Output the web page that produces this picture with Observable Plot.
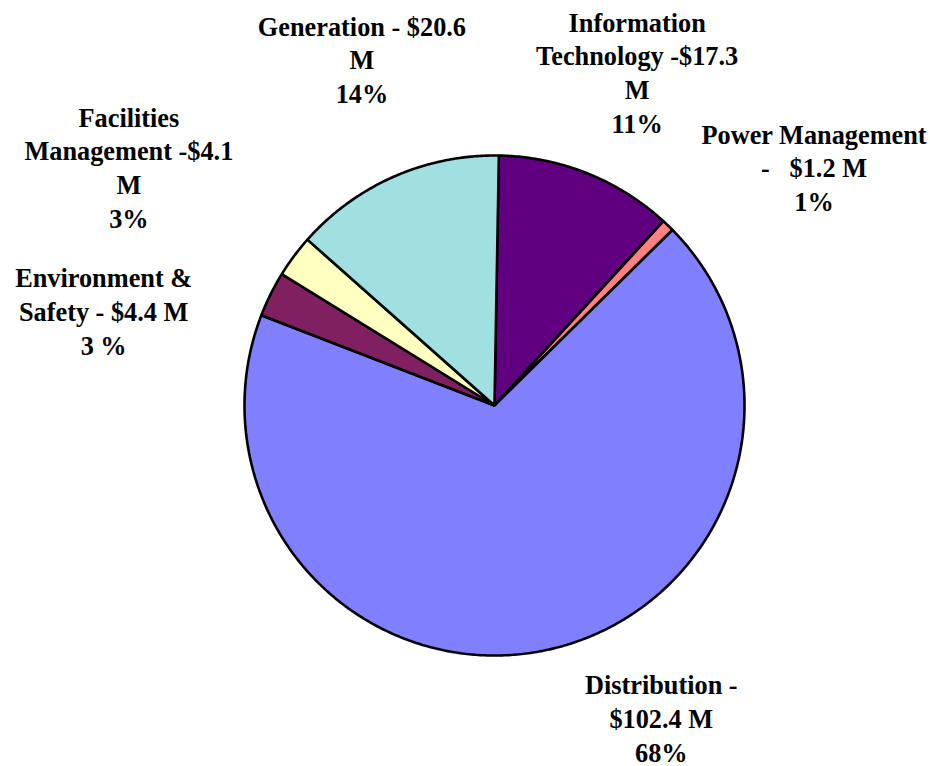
<!DOCTYPE html>
<html>
<head>
<meta charset="utf-8">
<script src="https://cdn.jsdelivr.net/npm/d3@7"></script>
<script src="https://cdn.jsdelivr.net/npm/@observablehq/plot@0.6"></script>
<style>
  html, body { margin: 0; padding: 0; background: #ffffff; }
  #chart svg { display: block; }
</style>
</head>
<body>
<div id="chart"></div>
<script>
// ---- data (clockwise from 12 o'clock) ----
const categories = ["Information Technology", "Power Management", "Distribution", "Environment & Safety", "Facilities Management", "Generation"];
const values = [17.3, 1.2, 102.4, 4.4, 4.1, 20.6];
const labelTexts = [
  "Information\nTechnology -$17.3\nM\n11%",
  "Power Management\n-\u00a0\u00a0 $1.2 M\n1%",
  "Distribution -\n$102.4 M\n68%",
  "Environment &\nSafety - $4.4 M\n3 %",
  "Facilities\nManagement -$4.1\nM\n3%",
  "Generation - $20.6\nM\n14%"
];
const colors = ["#600080", "#FF8080", "#8080FF", "#802060", "#FFFFC0", "#A0E0E0"];

// ---- layout / style ----
const startDeg = 1; // rotation of first slice
const labelOffsets = [[50, -102], [146, -59], [116, 67], [-167, 16], [-165, -90], [-32, -118]];

const pie = d3.pie().sort(null).value(d => d)
  .startAngle(startDeg * Math.PI / 180)
  .endAngle(startDeg * Math.PI / 180 + 2 * Math.PI);
const arcs = pie(values);

// polygon points for each slice (centre -> arc -> centre)
const pts = [];
arcs.forEach((a, i) => {
  const name = categories[i];
  pts.push({name, x: 0, y: 0});
  const n = Math.max(2, Math.ceil((a.endAngle - a.startAngle) / (Math.PI / 360)));
  for (let k = 0; k <= n; k++) {
    const t = a.startAngle + (a.endAngle - a.startAngle) * k / n;
    pts.push({name, x: Math.sin(t), y: Math.cos(t)});
  }
});

const labelData = arcs.map((a, i) => {
  const m = (a.startAngle + a.endAngle) / 2;
  return {name: categories[i], text: labelTexts[i], x: Math.sin(m), y: Math.cos(m)};
});

const chart = Plot.plot({
  width: 930,
  height: 766,
  marginLeft: 244,
  marginRight: 186,
  marginTop: 155,
  marginBottom: 111,
  x: {domain: [-1, 1], axis: null},
  y: {domain: [-1, 1], axis: null},
  color: {domain: categories, range: colors, type: "ordinal"},
  style: {background: "#ffffff"},
  marks: [
    Plot.line(pts, {
      x: "x", y: "y", z: "name", fill: "name",
      stroke: "#000000", strokeWidth: 2.6, strokeLinejoin: "miter",
      curve: "linear-closed"
    }),
    ...labelData.map((d, i) => Plot.text([d], {
      x: "x", y: "y", text: "text",
      dx: labelOffsets[i][0], dy: labelOffsets[i][1],
      fill: "#000000",
      fontFamily: "Liberation Serif",
      fontWeight: "bold",
      fontSize: 26.3,
      lineHeight: 1.28,
      textAnchor: "middle"
    }))
  ]
});
document.getElementById("chart").appendChild(chart);
</script>
</body>
</html>
